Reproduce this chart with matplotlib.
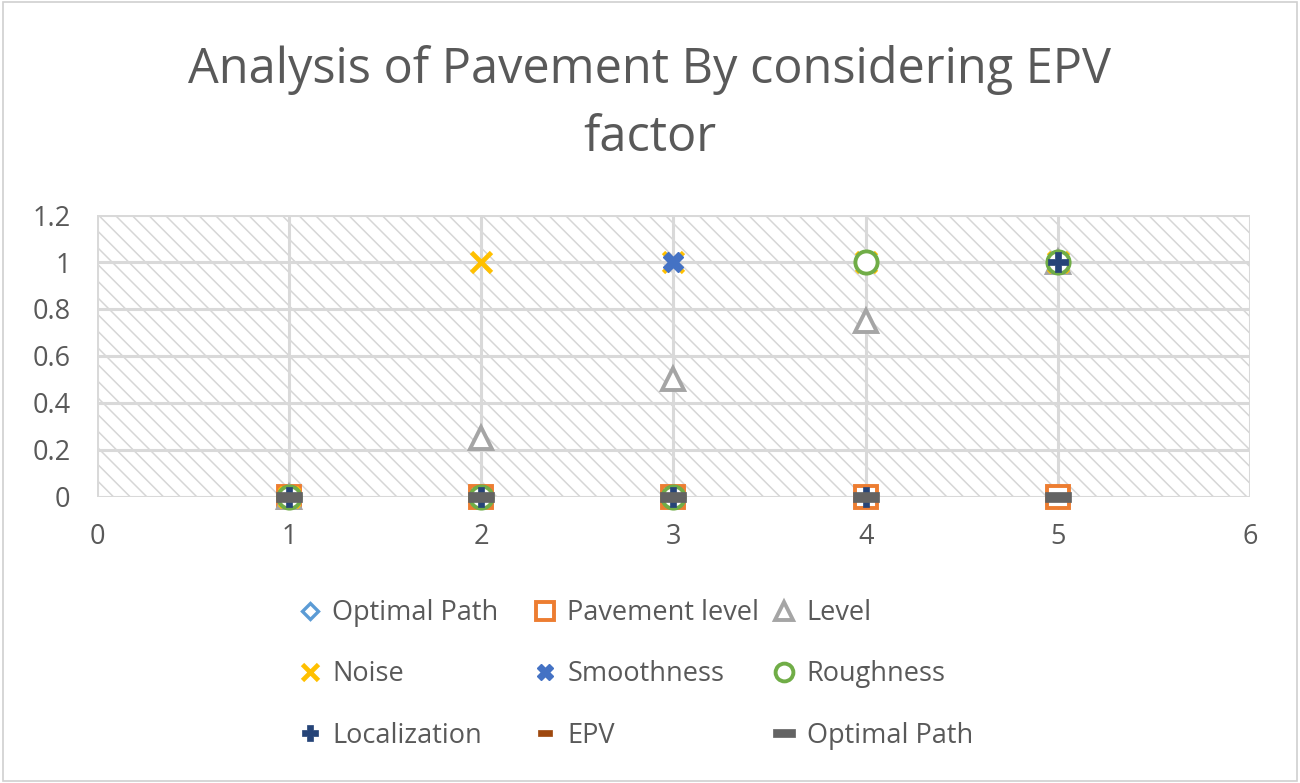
import matplotlib
matplotlib.use("Agg")
import matplotlib.pyplot as plt
from matplotlib.path import Path
from matplotlib.patches import Rectangle

plt.rcParams['font.family'] = ['Open Sans', 'DejaVu Sans']
plt.rcParams['hatch.linewidth'] = 1.1

x = [1, 2, 3, 4, 5]
optimal_path = [0, 0, 0, 0, 0]
pavement_level = [0, 0, 0, 0, 0]
level = [0, 0.25, 0.5, 0.75, 1]
noise = [0, 1, 1, 1, 1]
smoothness = [0, 0, 1, 1, 1]
roughness = [0, 0, 0, 1, 1]
localization = [0, 0, 0, 0, 1]
epv = [0, 0, 0, 0, 0]
optimal_path2 = [0, 0, 0, 0, 0]

x_ticks = [0, 1, 2, 3, 4, 5, 6]
y_ticks = [0, 0.2, 0.4, 0.6, 0.8, 1.0, 1.2]
y_labels = ["0", "0.2", "0.4", "0.6", "0.8", "1", "1.2"]

dash = Path([(-1, -0.35), (1, -0.35), (1, 0.35), (-1, 0.35), (-1, -0.35)],
            [Path.MOVETO, Path.LINETO, Path.LINETO, Path.LINETO, Path.CLOSEPOLY])

fig = plt.figure(figsize=(13, 7.83), dpi=100)
fig.patches.append(Rectangle((0.002, 0.003), 0.996, 0.994, transform=fig.transFigure,
                             fill=False, edgecolor='#d0d0d0', linewidth=1.2))
ax = fig.add_axes([0.0746, 0.3653, 0.8869, 0.3601])
ax.patch.set_facecolor('white')
ax.add_patch(Rectangle((0, 0), 1, 1, transform=ax.transAxes, facecolor='white',
                       edgecolor='#d6d6d6', hatch='\\\\', linewidth=0, zorder=0))

series = [
    ("Optimal Path", optimal_path, dict(marker='D', mfc='white', mec='#5B9BD5', ms=10, mew=2.4)),
    ("Pavement level", pavement_level, dict(marker='s', mfc='white', mec='#ED7D31', ms=16, mew=2.8)),
    ("Level", level, dict(marker='^', mfc='white', mec='#A5A5A5', ms=16, mew=2.8)),
    ("Noise", noise, dict(marker='x', mec='#FFC000', ms=14, mew=3.4)),
    ("Smoothness", smoothness, dict(marker='X', mfc='#4472C4', mec='#4472C4', ms=15, mew=1)),
    ("Roughness", roughness, dict(marker='o', mfc='white', mec='#70AD47', ms=16, mew=2.8)),
    ("Localization", localization, dict(marker='P', mfc='#264478', mec='#264478', ms=14, mew=0.5)),
    ("EPV", epv, dict(marker=dash, mfc='#9E480E', mec='#9E480E', ms=13, mew=0.5)),
    ("Optimal Path", optimal_path2, dict(marker=dash, mfc='#636363', mec='#636363', ms=19, mew=0.5)),
]

handles = []
for label, vals, st in series:
    h, = ax.plot(x, vals, linestyle='none', label=label, zorder=3, clip_on=False, **st)
    handles.append(h)

ax.set_xlim(0, 6)
ax.set_ylim(0, 1.2)
ax.set_xticks(x_ticks)
ax.set_yticks(y_ticks)
ax.set_yticklabels(y_labels)
ax.grid(True, color='#d9d9d9', linewidth=2.2, zorder=1)
ax.set_axisbelow(True)
for s in ax.spines.values():
    s.set_visible(False)
ax.tick_params(length=0, labelsize=19.5, labelcolor='#595959')
ax.tick_params(axis='x', pad=19)
ax.tick_params(axis='y', pad=19)

fig.text(0.5, 0.911, "Analysis of Pavement By considering EPV", ha='center', va='center',
         fontsize=35, color='#595959')
fig.text(0.5, 0.823, "factor", ha='center', va='center', fontsize=35, color='#595959')

col_x = [0.2288, 0.4096, 0.594]
for ci in range(3):
    hs = [handles[ci + 3 * r] for r in range(3)]
    ls = [series[ci + 3 * r][0] for r in range(3)]
    fig.legend(hs, ls, loc='upper left', bbox_to_anchor=(col_x[ci], 0.2350),
               frameon=False, fontsize=19.5, handlelength=0.9, handletextpad=0.38,
               labelspacing=1.23, labelcolor='#595959', borderaxespad=0, borderpad=0,
               markerscale=0.8)

fig.savefig("out.png", dpi=100)
